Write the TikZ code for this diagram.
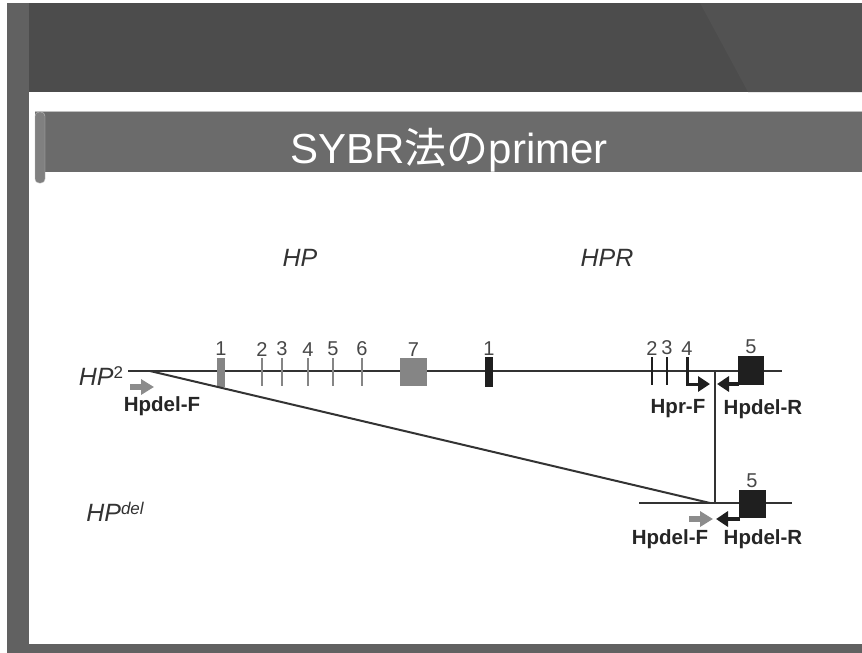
\documentclass[tikz,border=0pt]{standalone}
\usepackage{fontspec}
\setmainfont{Liberation Sans}
\newfontfamily\cjk{Noto Sans CJK JP}
\usetikzlibrary{arrows.meta, positioning}

\tikzset{
  gene/.style={line width=2pt, draw=black!80},
  exongray/.style={fill=black!48, draw=none, inner sep=0pt},
  exonblack/.style={fill=black!88, draw=none, inner sep=0pt},
  tickgray/.style={fill=black!48, minimum width=2.6pt, minimum height=28pt, inner sep=0pt},
  tickblack/.style={fill=black!88, minimum width=2.8pt, minimum height=28pt, inner sep=0pt},
  num/.style={text=black!72, font=\fontsize{20}{20}\selectfont, inner sep=1.5pt},
  primername/.style={font=\bfseries\fontsize{20.5}{20.5}\selectfont, text=black!85},
  locus/.style={font=\itshape\fontsize{25}{25}\selectfont, text=black!80},
  primergray/.style={draw=black!45, line width=5.5pt, -{Triangle[length=13pt,width=15pt]}},
  primerblack/.style={draw=black!88, line width=3.5pt, -{Triangle[length=12pt,width=15pt]}}
}
\newcommand{\locsup}[1]{\raisebox{0.55ex}{\fontsize{17}{17}\selectfont #1}}

\begin{document}
\begin{tikzpicture}[x=1pt,y=-1pt]
  \useasboundingbox (0,0) rectangle (862,653);
  % slide frame
  \fill[white] (0,0) rectangle (862,653);
  \fill[black!70] (7,3) rectangle (862,92);
  \fill[black!68] (700,3) -- (862,3) -- (862,92) -- (748,92) -- cycle;
  \fill[black!62] (7,3) rectangle (29,653);
  \fill[black!62] (7,644) rectangle (862,653);
  % title banner
  \fill[black!58] (35,111) rectangle (862,172);
  \draw[black!25, line width=1pt] (35,111) -- (862,111);
  \draw[black!25, fill=black!50, rounded corners=4pt] (35,112) rectangle (45,183);
  \node[text=white, font=\fontsize{42}{42}\selectfont] (title) at (449,150) {SYBR{\cjk 法の}primer};

  % loci names
  \node[locus] (hp) at (300,258) {HP};
  \node[locus] (hpr) at (607,258) {HPR};
  \node[locus] (hp2) at (101,376) {HP\locsup{\upshape 2}};
  \node[locus] (hpdel) at (115,512) {HP\locsup{del}};

  % HP2 allele
  \coordinate (topstart) at (128,371);
  \coordinate (topend) at (782,371);
  \draw[gene] (topstart) -- (topend);

  % HP exons
  \node[exongray, minimum width=8pt, minimum height=29pt] (hpe1) at (221,372) {};
  \node[num, above=0pt of hpe1] {1};
  \foreach \n/\x in {2/262, 3/282, 4/308, 5/333, 6/362} {
    \node[tickgray] (hpe\n) at (\x,372) {};
    \node[num, above=0pt of hpe\n] {\n};
  }
  \node[exongray, minimum width=27pt, minimum height=28pt] (hpe7) at (413.5,372) {};
  \node[num, above=0pt of hpe7] {7};

  % HPR exons
  \node[exonblack, minimum width=8pt, minimum height=30pt] (hpre1) at (489,372) {};
  \node[num, above=0pt of hpre1] {1};
  \node[tickblack] (hpre2) at (652,371) {};
  \node[num, above=0pt of hpre2] {2};
  \node[tickblack] (hpre3) at (667,371) {};
  \node[num, above=0pt of hpre3] {3};
  \coordinate (hpre4) at (687,357);
  \node[num, above=0pt of hpre4] {4};
  \node[exonblack, minimum width=26pt, minimum height=29pt] (hpre5) at (751,370) {};
  \node[num, above=0pt of hpre5] {5};

  % deletion junction
  \coordinate (junc) at (715,371);
  \coordinate (junclow) at (715,503);
  \coordinate (diagstart) at (150,371);
  \coordinate (diagend) at (710,503);
  \draw[gene] (junc) -- (junclow);
  \draw[gene] (diagstart) -- (diagend);

  % HPdel allele
  \coordinate (lowstart) at (639,503);
  \coordinate (lowend) at (792,503);
  \draw[gene] (lowstart) -- (lowend);
  \node[exonblack, minimum width=27pt, minimum height=28pt] (dele5) at (752,504) {};
  \node[num, above=0pt of dele5] {5};

  % primers
  \coordinate (fa) at (130,387);
  \coordinate (fb) at (154,387);
  \draw[primergray] (fa) -- (fb);
  \node[primername] (hpdelf) at (162,406) {Hpdel-F};
  \coordinate (prf) at (710,384);
  \draw[primerblack, line width=3pt] (hpre4) |- (prf);
  \node[primername] (hprf) at (678,409) {Hpr-F};
  \coordinate (ra) at (739,384);
  \coordinate (rb) at (717,384);
  \draw[primerblack] (ra) -- (rb);
  \node[primername] (hpdelr) at (763,409) {Hpdel-R};

  \coordinate (lfa) at (689,519);
  \coordinate (lfb) at (713,519);
  \draw[primergray] (lfa) -- (lfb);
  \coordinate (lra) at (740,519);
  \coordinate (lrb) at (716,519);
  \draw[primerblack] (lra) -- (lrb);
  \node[primername] (lhpdelf) at (670,539) {Hpdel-F};
  \node[primername] (lhpdelr) at (763,539) {Hpdel-R};
\end{tikzpicture}
\end{document}
